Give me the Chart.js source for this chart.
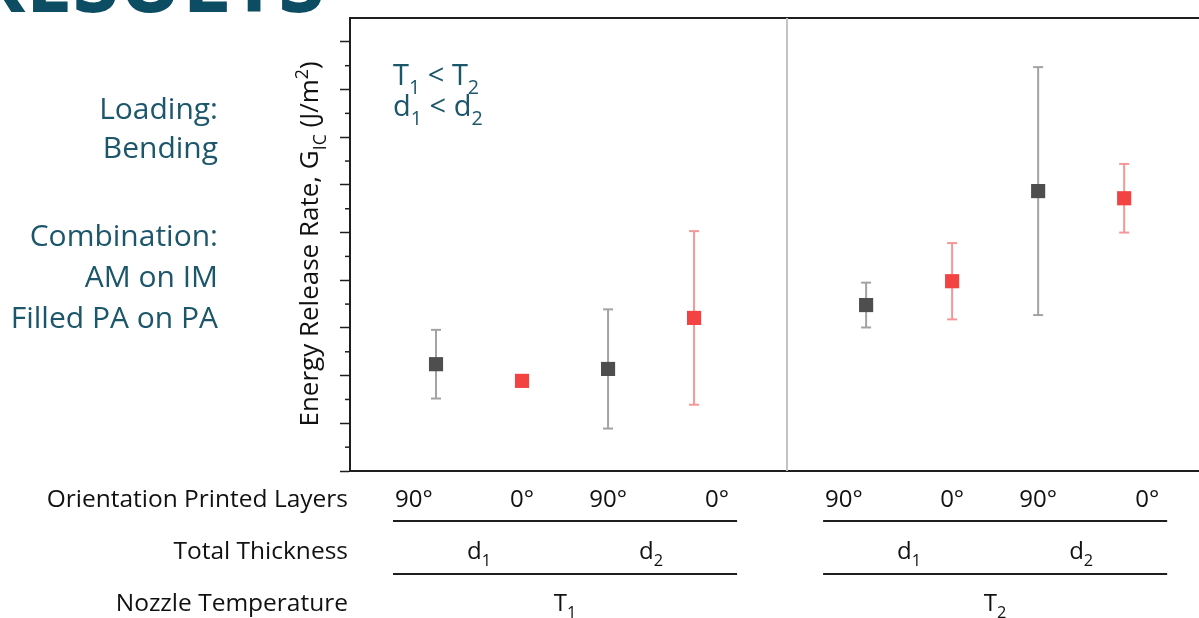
<!DOCTYPE html>
<html>
<head>
<meta charset="utf-8">
<script src="https://cdn.jsdelivr.net/npm/chart.js@4.4.1/dist/chart.umd.min.js"></script>
<style>
	html, body { margin: 0; padding: 0; background: #fff; }
	#wrap { position: relative; width: 1199px; height: 618px; }
</style>
</head>
<body>
<div id="wrap"><canvas id="chart"></canvas></div>
<script>
// y in units of one major tick (axis has no numbers)
var positions   = [1, 2, 3, 4, 6, 7, 8, 9];
var orientation = ['90°', '0°', '90°', '0°', '90°', '0°', '90°', '0°'];
var thickness   = ['1', '1', '2', '2', '1', '1', '2', '2'];
var temperature = ['1', '1', '1', '1', '2', '2', '2', '2'];
var means       = [2.24, 1.89, 2.14, 3.21, 3.48, 3.98, 5.87, 5.72];
var errors      = [0.72, 0.04, 1.25, 1.82, 0.47, 0.80, 2.60, 0.72];
var separator_x = 5.08;

var row_labels = ['Orientation Printed Layers', 'Total Thickness', 'Nozzle Temperature'];
var notes_left = ['Loading:', 'Bending', 'Combination:', 'AM on IM', 'Filled PA on PA'];

var y_max = 9.5;
var x_max = 9.87;

var teal = '#1c566a';
var ink  = '#1e1e1e';

function points_for(deg) {
	var pts = [];
	for (var i in positions) {
		if (orientation[i] == deg) pts.push({x: positions[i], y: means[i]});
	}
	return pts;
}

function bars_for(deg) {
	var pts = [];
	for (var i in positions) {
		if (orientation[i] != deg) continue;
		pts.push({x: positions[i], y: means[i] - errors[i]});
		pts.push({x: positions[i], y: means[i] + errors[i]});
		pts.push({x: positions[i], y: null});
	}
	return pts;
}

// parts: [text, 0 normal | 1 sub | 2 sup]
function draw_parts(ctx, parts, x, y, align, size) {
	var widths = [], total = 0;
	parts.forEach(function(p) {
		ctx.font = (p[1] ? size * 0.68 : size) + 'px "Open Sans"';
		var w = ctx.measureText(p[0]).width;
		widths.push(w);
		total += w;
	});
	var cx = x;
	if (align == 'center') cx = x - total / 2;
	if (align == 'right') cx = x - total;
	ctx.textAlign = 'left';
	ctx.textBaseline = 'alphabetic';
	parts.forEach(function(p, i) {
		ctx.font = (p[1] ? size * 0.68 : size) + 'px "Open Sans"';
		var dy = p[1] == 1 ? size * 0.3 : (p[1] == 2 ? -size * 0.4 : 0);
		ctx.fillText(p[0], cx, y + dy);
		cx += widths[i];
	});
}

var minor_ticks = {
	id: 'minor_ticks',
	afterDraw: function(chart) {
		var ctx = chart.ctx, s = chart.scales.y;
		ctx.save();
		ctx.strokeStyle = ink;
		ctx.lineWidth = 1.5;
		s.ticks.forEach(function(t) {
			if (t.value % 1 === 0 || t.value >= y_max) return;
			var py = s.getPixelForValue(t.value);
			ctx.beginPath();
			ctx.moveTo(s.right - 5, py);
			ctx.lineTo(s.right, py);
			ctx.stroke();
		});
		ctx.restore();
	}
};

var slide_text = {
	id: 'slide_text',
	afterDraw: function(chart) {
		var ctx = chart.ctx, sx = chart.scales.x;
		ctx.save();

		// cut off heading
		ctx.fillStyle = '#0c4d63';
		ctx.font = 'bold 84px "Open Sans"';
		ctx.textAlign = 'left';
		ctx.textBaseline = 'alphabetic';
		ctx.fillText('RESULTS', -30, 12);

		// notes on the left
		ctx.fillStyle = teal;
		ctx.font = '30px "Open Sans"';
		ctx.textAlign = 'right';
		var note_y = [119, 158, 246, 287, 328];
		notes_left.forEach(function(t, i) { ctx.fillText(t, 218, note_y[i]); });

		// T1 < T2, d1 < d2
		draw_parts(ctx, [['T', 0], ['1', 1], [' < T', 0], ['2', 1]], 393, 85, 'left', 29);
		draw_parts(ctx, [['d', 0], ['1', 1], [' < d', 0], ['2', 1]], 393, 116, 'left', 29);

		// y axis title
		ctx.fillStyle = '#111';
		ctx.save();
		ctx.translate(318, 244);
		ctx.rotate(-Math.PI / 2);
		draw_parts(ctx, [['Energy Release Rate, G', 0], ['IC', 1], [' (J/m', 0], ['2', 2], [')', 0]], 0, 0, 'center', 26);
		ctx.restore();

		// table under the axis
		var row_y = [507, 559, 611];
		ctx.font = '24.5px "Open Sans"';
		ctx.textAlign = 'right';
		row_labels.forEach(function(t, i) { ctx.fillText(t, 348, row_y[i]); });

		var groups = [];
		temperature.forEach(function(t, i) {
			var g = groups[groups.length - 1];
			if (!g || g.t != t) { g = {t: t, idx: []}; groups.push(g); }
			g.idx.push(i);
		});

		ctx.strokeStyle = ink;
		ctx.lineWidth = 2;
		groups.forEach(function(g) {
			var first = g.idx[0], last = g.idx[g.idx.length - 1];
			var x0 = sx.getPixelForValue(positions[first] - 0.5);
			var x1 = sx.getPixelForValue(positions[last] + 0.5);
			[521, 574].forEach(function(ly) {
				ctx.beginPath();
				ctx.moveTo(x0, ly);
				ctx.lineTo(x1, ly);
				ctx.stroke();
			});

			ctx.font = '24px "Open Sans"';
			g.idx.forEach(function(i) {
				if (i == first) { ctx.textAlign = 'left'; ctx.fillText(orientation[i], x0 + 2, row_y[0]); }
				else if (i == last) { ctx.textAlign = 'right'; ctx.fillText(orientation[i], x1 - 8, row_y[0]); }
				else { ctx.textAlign = 'center'; ctx.fillText(orientation[i], sx.getPixelForValue(positions[i]), row_y[0]); }
			});

			// thickness sub groups
			var subs = [];
			g.idx.forEach(function(i) {
				var s = subs[subs.length - 1];
				if (!s || s.d != thickness[i]) { s = {d: thickness[i], xs: []}; subs.push(s); }
				s.xs.push(positions[i]);
			});
			subs.forEach(function(s) {
				var mid = s.xs.reduce(function(a, b) { return a + b; }, 0) / s.xs.length;
				draw_parts(ctx, [['d', 0], [s.d, 1]], sx.getPixelForValue(mid), row_y[1], 'center', 24);
			});

			var mid_t = (positions[first] + positions[last]) / 2;
			draw_parts(ctx, [['T', 0], [g.t, 1]], sx.getPixelForValue(mid_t), row_y[2], 'center', 24);
		});

		ctx.restore();
	}
};

Chart.defaults.font.family = '"Open Sans"';

var ctx = document.getElementById('chart');
var myChart = new Chart(ctx, {
	type: 'scatter',
	data: {
		datasets: [{
			data: points_for('90°'),
			pointStyle: 'rect',
			pointRadius: 10,
			backgroundColor: '#4e4e4e',
			borderColor: '#4e4e4e',
			borderWidth: 0,
			order: 0
		}, {
			data: points_for('0°'),
			pointStyle: 'rect',
			pointRadius: 10,
			backgroundColor: '#f24242',
			borderColor: '#f24242',
			borderWidth: 0,
			order: 0
		}, {
			type: 'line',
			data: bars_for('90°'),
			showLine: true,
			spanGaps: false,
			borderColor: '#a3a3a3',
			borderWidth: 2,
			pointStyle: 'line',
			pointRadius: 5,
			pointBorderWidth: 2,
			pointBorderColor: '#a3a3a3',
			order: 1
		}, {
			type: 'line',
			data: bars_for('0°'),
			showLine: true,
			spanGaps: false,
			borderColor: '#f59797',
			borderWidth: 2,
			pointStyle: 'line',
			pointRadius: 5,
			pointBorderWidth: 2,
			pointBorderColor: '#f59797',
			order: 1
		}, {
			type: 'line',
			data: [{x: separator_x, y: 0}, {x: separator_x, y: y_max}],
			borderColor: '#c2c2c2',
			borderWidth: 2,
			pointRadius: 0,
			order: 2
		}]
	},
	options: {
		responsive: true,
		maintainAspectRatio: false,
		animation: false,
		events: [],
		layout: { padding: 0, autoPadding: false },
		plugins: {
			legend: { display: false },
			tooltip: { enabled: false }
		},
		scales: {
			x: {
				type: 'linear',
				position: 'bottom',
				min: 0,
				max: x_max,
				grid: { display: false },
				ticks: { display: false },
				border: { display: true, color: ink, width: 2 },
				afterFit: function(s) { s.height = 147; }
			},
			xTop: {
				type: 'linear',
				position: 'top',
				min: 0,
				max: x_max,
				grid: { display: false },
				ticks: { display: false },
				border: { display: true, color: ink, width: 2 },
				afterFit: function(s) { s.height = 18; }
			},
			y: {
				min: 0,
				max: y_max,
				ticks: { display: false, stepSize: 0.5 },
				grid: {
					drawOnChartArea: false,
					tickLength: 10,
					tickWidth: 1.5,
					tickColor: function(c) {
						return (c.tick && c.tick.value % 1 === 0) ? ink : 'rgba(0,0,0,0)';
					}
				},
				border: { display: true, color: ink, width: 2 },
				afterFit: function(s) { s.width = 350; }
			}
		}
	},
	plugins: [minor_ticks, slide_text]
});
</script>
</body>
</html>
